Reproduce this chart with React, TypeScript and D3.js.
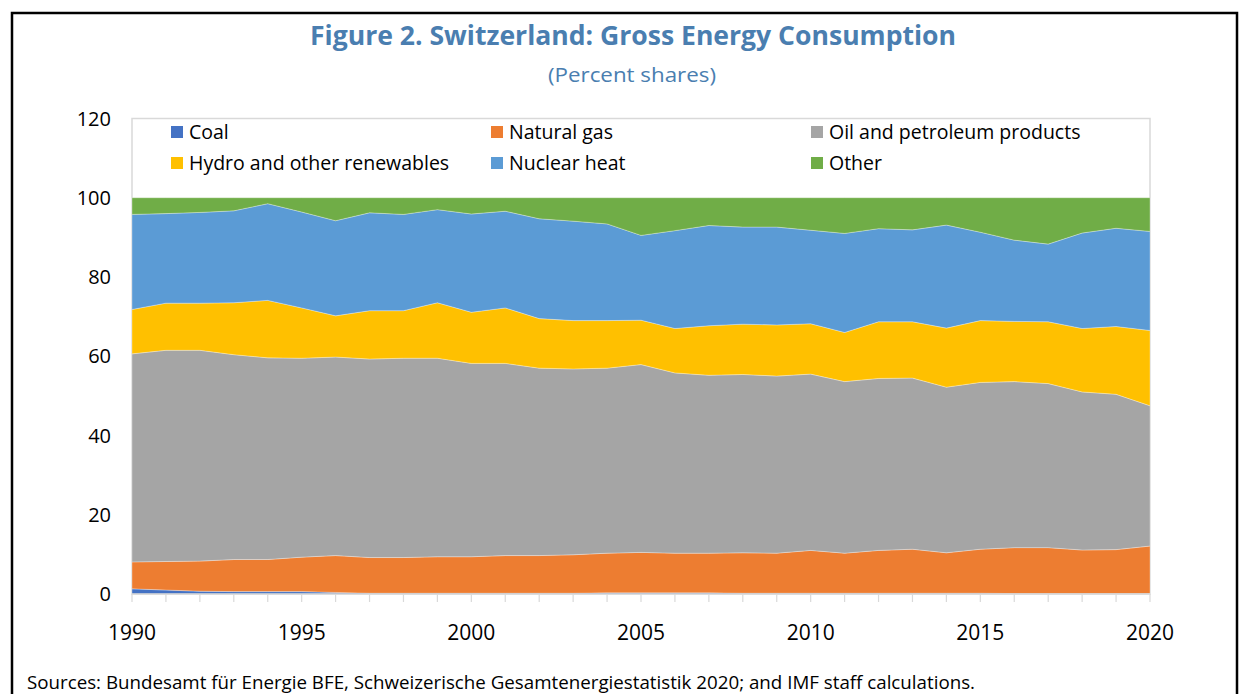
import React from 'react';
import * as d3 from 'd3';

// --- data (percent shares) ---
const years = d3.range(1990, 2021);

const coal = [1.3, 1.0, 0.7, 0.6, 0.6, 0.6, 0.4, 0.2, 0.2, 0.2, 0.2, 0.2, 0.2, 0.2, 0.3, 0.3, 0.3, 0.3, 0.2, 0.2, 0.2, 0.2, 0.2, 0.2, 0.2, 0.2, 0.1, 0.1, 0.1, 0.1, 0.1];
const naturalGas = [6.8, 7.2, 7.6, 8.1, 8.1, 8.7, 9.3, 9.0, 9.0, 9.2, 9.2, 9.5, 9.5, 9.7, 10.0, 10.2, 10.0, 10.0, 10.2, 10.1, 10.8, 10.1, 10.8, 11.1, 10.2, 11.1, 11.6, 11.6, 11.0, 11.1, 12.0];
const oil = [52.5, 53.3, 53.2, 51.7, 50.9, 50.2, 50.1, 50.1, 50.3, 50.1, 48.8, 48.5, 47.3, 46.9, 46.7, 47.4, 45.5, 44.9, 45.0, 44.7, 44.5, 43.3, 43.4, 43.2, 41.8, 42.1, 41.9, 41.4, 39.9, 39.2, 35.4];
const hydro = [11.2, 11.9, 11.9, 13.1, 14.5, 12.7, 10.4, 12.2, 12.0, 14.0, 12.9, 14.0, 12.5, 12.2, 12.0, 11.2, 11.2, 12.5, 12.7, 12.9, 12.7, 12.4, 14.3, 14.2, 14.9, 15.6, 15.2, 15.6, 16.0, 17.1, 19.0];
const nuclear = [24.0, 22.6, 22.9, 23.2, 24.4, 24.2, 24.0, 24.7, 24.3, 23.5, 24.8, 24.4, 25.2, 25.1, 24.4, 21.4, 24.7, 25.3, 24.5, 24.7, 23.6, 25.0, 23.5, 23.2, 26.0, 22.3, 20.5, 19.6, 24.1, 24.8, 25.0];
const other = [4.2, 4.0, 3.7, 3.3, 1.5, 3.6, 5.8, 3.8, 4.2, 3.0, 4.1, 3.4, 5.3, 5.9, 6.6, 9.5, 8.3, 7.0, 7.4, 7.4, 8.2, 9.0, 7.8, 8.1, 6.9, 8.7, 10.7, 11.7, 8.9, 7.7, 8.5];

const seriesNames = ['Coal', 'Natural gas', 'Oil and petroleum products', 'Hydro and other renewables', 'Nuclear heat', 'Other'];
const seriesValues = [coal, naturalGas, oil, hydro, nuclear, other];
const seriesColors = ['#4472C4', '#ED7D31', '#A5A5A5', '#FFC000', '#5B9BD5', '#70AD47'];

const yTicks = [0, 20, 40, 60, 80, 100, 120];
const xTicks = [1990, 1995, 2000, 2005, 2010, 2015, 2020];

const title = 'Figure 2. Switzerland: Gross Energy Consumption';
const subtitle = '(Percent shares)';
const source = 'Sources: Bundesamt für Energie BFE, Schweizerische Gesamtenergiestatistik 2020; and IMF staff calculations.';

const W = 1240;
const H = 694;
const plot = { left: 132, right: 1150, top: 118.5, bottom: 594 };
const font = '"Open Sans", "Noto Sans", sans-serif';
const titleColor = '#4A7EB0';

export default function App() {
  // table the stack generator wants
  const table = years.map((yr, i) => {
    const row: Record<string, number> = { year: yr };
    seriesNames.forEach((n, k) => { row[n] = seriesValues[k][i]; });
    return row;
  });

  const stacked = d3.stack<Record<string, number>>().keys(seriesNames)(table);

  const x = d3.scaleLinear().domain([1990, 2020]).range([plot.left, plot.right]);
  const y = d3.scaleLinear().domain([0, 120]).range([plot.bottom, plot.top]);

  const area = d3.area<d3.SeriesPoint<Record<string, number>>>()
    .x(d => x(d.data.year))
    .y0(d => y(d[0]))
    .y1(d => y(d[1]));

  const legendCols = [171, 491, 811];
  const legendRows = [132, 163];

  return (
    <svg width={W} height={H} style={{ position: 'absolute', left: 0, top: 0, background: '#fff' }} fontFamily={font}>
      <rect x={0} y={0} width={W} height={H} fill="#fff" />
      {/* outer frame */}
      <rect x={12} y={13} width={1225} height={700} fill="none" stroke="#000" strokeWidth={2.5} />

      <text x={633} y={45} textAnchor="middle" fill={titleColor} fontSize={26} fontWeight="bold"
        textLength={646} lengthAdjust="spacingAndGlyphs">{title}</text>
      <text x={632} y={82} textAnchor="middle" fill={titleColor} fontSize={20}
        textLength={168} lengthAdjust="spacingAndGlyphs">{subtitle}</text>

      {/* plot area border */}
      <rect x={plot.left} y={plot.top} width={plot.right - plot.left} height={plot.bottom - plot.top}
        fill="none" stroke="#D9D9D9" strokeWidth={1.5} />

      {/* stacked areas */}
      {stacked.map((s, k) => (
        <path key={s.key} d={area(s) || ''} fill={seriesColors[k]} stroke="#fff" strokeOpacity={0.5} strokeWidth={0.6} />
      ))}

      {/* x axis */}
      <line x1={plot.left} x2={plot.right} y1={plot.bottom} y2={plot.bottom} stroke="#D9D9D9" strokeWidth={1.5} />
      {years.map(yr => (
        <line key={yr} x1={x(yr)} x2={x(yr)} y1={plot.bottom} y2={plot.bottom + 8} stroke="#D9D9D9" strokeWidth={1.2} />
      ))}
      {xTicks.map(t => (
        <text key={t} x={x(t)} y={640} textAnchor="middle" fontSize={21} fill="#000">{t}</text>
      ))}

      {/* y labels */}
      {yTicks.map(t => (
        <text key={t} x={111} y={y(t) + 7} textAnchor="end" fontSize={20} fill="#000">{t}</text>
      ))}

      {/* legend */}
      {seriesNames.map((n, k) => {
        const lx = legendCols[k % 3];
        const ly = legendRows[Math.floor(k / 3)];
        return (
          <g key={n}>
            <rect x={lx} y={ly - 6} width={12} height={12} fill={seriesColors[k]} />
            <text x={lx + 18} y={ly + 7} fontSize={19.5} fill="#000">{n}</text>
          </g>
        );
      })}

      <text x={27} y={689} fontSize={18.5} fill="#000" textLength={948} lengthAdjust="spacingAndGlyphs">{source}</text>
    </svg>
  );
}
